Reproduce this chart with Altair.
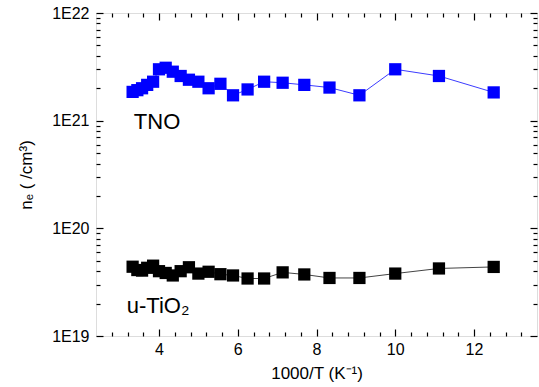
import altair as alt
import pandas as pd

# ---- data ----
inv_t = [3.33, 3.45, 3.57, 3.70, 3.85, 4.00, 4.17, 4.35, 4.55, 4.76, 5.00, 5.26,
         5.56, 5.88, 6.25, 6.67, 7.14, 7.69, 8.33, 9.09, 10.0, 11.11, 12.5]
tno = [1.85e21, 1.92e21, 2.00e21, 2.15e21, 2.30e21, 3.00e21, 3.10e21, 2.85e21,
       2.60e21, 2.40e21, 2.30e21, 2.00e21, 2.20e21, 1.72e21, 1.95e21, 2.30e21,
       2.25e21, 2.15e21, 2.03e21, 1.72e21, 3.00e21, 2.60e21, 1.83e21]
tio2 = [4.40e19, 4.10e19, 4.05e19, 4.30e19, 4.50e19, 4.00e19, 3.85e19, 3.65e19,
        4.00e19, 4.35e19, 3.80e19, 3.95e19, 3.75e19, 3.65e19, 3.42e19, 3.42e19,
        3.90e19, 3.73e19, 3.46e19, 3.46e19, 3.80e19, 4.24e19, 4.38e19]
series_names = ["TNO", "u-TiO2"]
series_colors = ["#0000ff", "#000000"]
line_colors = ["#3c3cff", "#444444"]

label_text = ["TNO", "u-TiO\u2082"]
label_x = [3.36, 3.18]
label_y = [8.3e20, 1.63e19]

x_domain = [2.4, 13.6]
y_domain = [1e19, 1e22]
x_major = [4, 6, 8, 10, 12]
x_minor = [2.8, 3.2, 3.6, 4.4, 4.8, 5.2, 5.6, 6.4, 6.8, 7.2, 7.6, 8.4, 8.8, 9.2,
           9.6, 10.4, 10.8, 11.2, 11.6, 12.4, 12.8, 13.2]
y_major = [1e19, 1e20, 1e21, 1e22]
y_minor = [k * 10.0 ** e for e in (19, 20, 21) for k in range(2, 10)]

rows = []
for name, vals in zip(series_names, [tno, tio2]):
    for xv, yv in zip(inv_t, vals):
        rows.append({"x": xv, "y": yv, "series": name})
df = pd.DataFrame(rows)
lab = pd.DataFrame({"x": label_x, "y": label_y, "t": label_text})

FONT = "Liberation Sans"
xs = alt.Scale(domain=x_domain, nice=False, zero=False)
ys = alt.Scale(type="log", domain=y_domain, nice=False)

def ax(orient, values, size, labels=False, title=None, **kw):
    opts = dict(orient=orient, values=values, tickSize={"expr": str(-size)},
                tickColor="black", tickWidth=1.2, domain=False, grid=False,
                labels=labels, title=title)
    opts.update(kw)
    return alt.Axis(**opts)

bottom_major = ax("bottom", x_major, 7, labels=True, title="1000/T (K\u207b\u00b9)",
                  labelPadding=12, labelFontSize=16, labelFont=FONT, labelColor="black",
                  titleFont=FONT, titleFontSize=17, titleFontWeight="normal",
                  titleColor="black", titlePadding=8)
left_major = ax("left", y_major, 7, labels=True, title="n\u2091 ( /cm\u00b3)",
                labelPadding=14, labelFontSize=16, labelFont=FONT, labelColor="black",
                labelExpr="'1E' + round(log(datum.value)/LN10)",
                titleFont=FONT, titleFontSize=17, titleFontWeight="normal",
                titleColor="black", titlePadding=16)
bottom_minor = ax("bottom", x_minor, 4)
left_minor = ax("left", y_minor, 4)
top_major = ax("top", x_major, 7)
right_major = ax("right", y_major, 7)
top_minor = ax("top", x_minor, 4)
right_minor = ax("right", y_minor, 4)

base = alt.Chart(df)
lines = base.mark_line(strokeWidth=1).encode(
    x=alt.X("x:Q", scale=xs, axis=bottom_major),
    y=alt.Y("y:Q", scale=ys, axis=left_major),
    stroke=alt.Stroke("series:N", scale=alt.Scale(domain=series_names, range=line_colors), legend=None),
)
points = base.mark_square(size=150, opacity=1).encode(
    x=alt.X("x:Q", scale=xs, axis=bottom_minor),
    y=alt.Y("y:Q", scale=ys, axis=left_minor),
    fill=alt.Fill("series:N", scale=alt.Scale(domain=series_names, range=series_colors), legend=None),
)
ghost1 = base.mark_point(opacity=0).encode(
    x=alt.X("x:Q", scale=xs, axis=top_major),
    y=alt.Y("y:Q", scale=ys, axis=right_major),
)
ghost2 = base.mark_point(opacity=0).encode(
    x=alt.X("x:Q", scale=xs, axis=top_minor),
    y=alt.Y("y:Q", scale=ys, axis=right_minor),
)
texts = alt.Chart(lab).mark_text(align="left", baseline="alphabetic", fontSize=22,
                                  font=FONT, color="black").encode(
    x=alt.X("x:Q", scale=xs, axis=None),
    y=alt.Y("y:Q", scale=ys, axis=None),
    text="t:N",
)

chart = alt.layer(lines, points, ghost1, ghost2, texts).resolve_axis(
    x="independent", y="independent"
).properties(
    width=441, height=323,
    autosize=alt.AutoSizeParams(type="none"),
    padding={"left": 96, "top": 13, "right": 2, "bottom": 51},
).configure_view(stroke="black", strokeWidth=1.5).configure(background="white")

chart.save("out.html", embed_options={"renderer": "svg", "actions": False})
